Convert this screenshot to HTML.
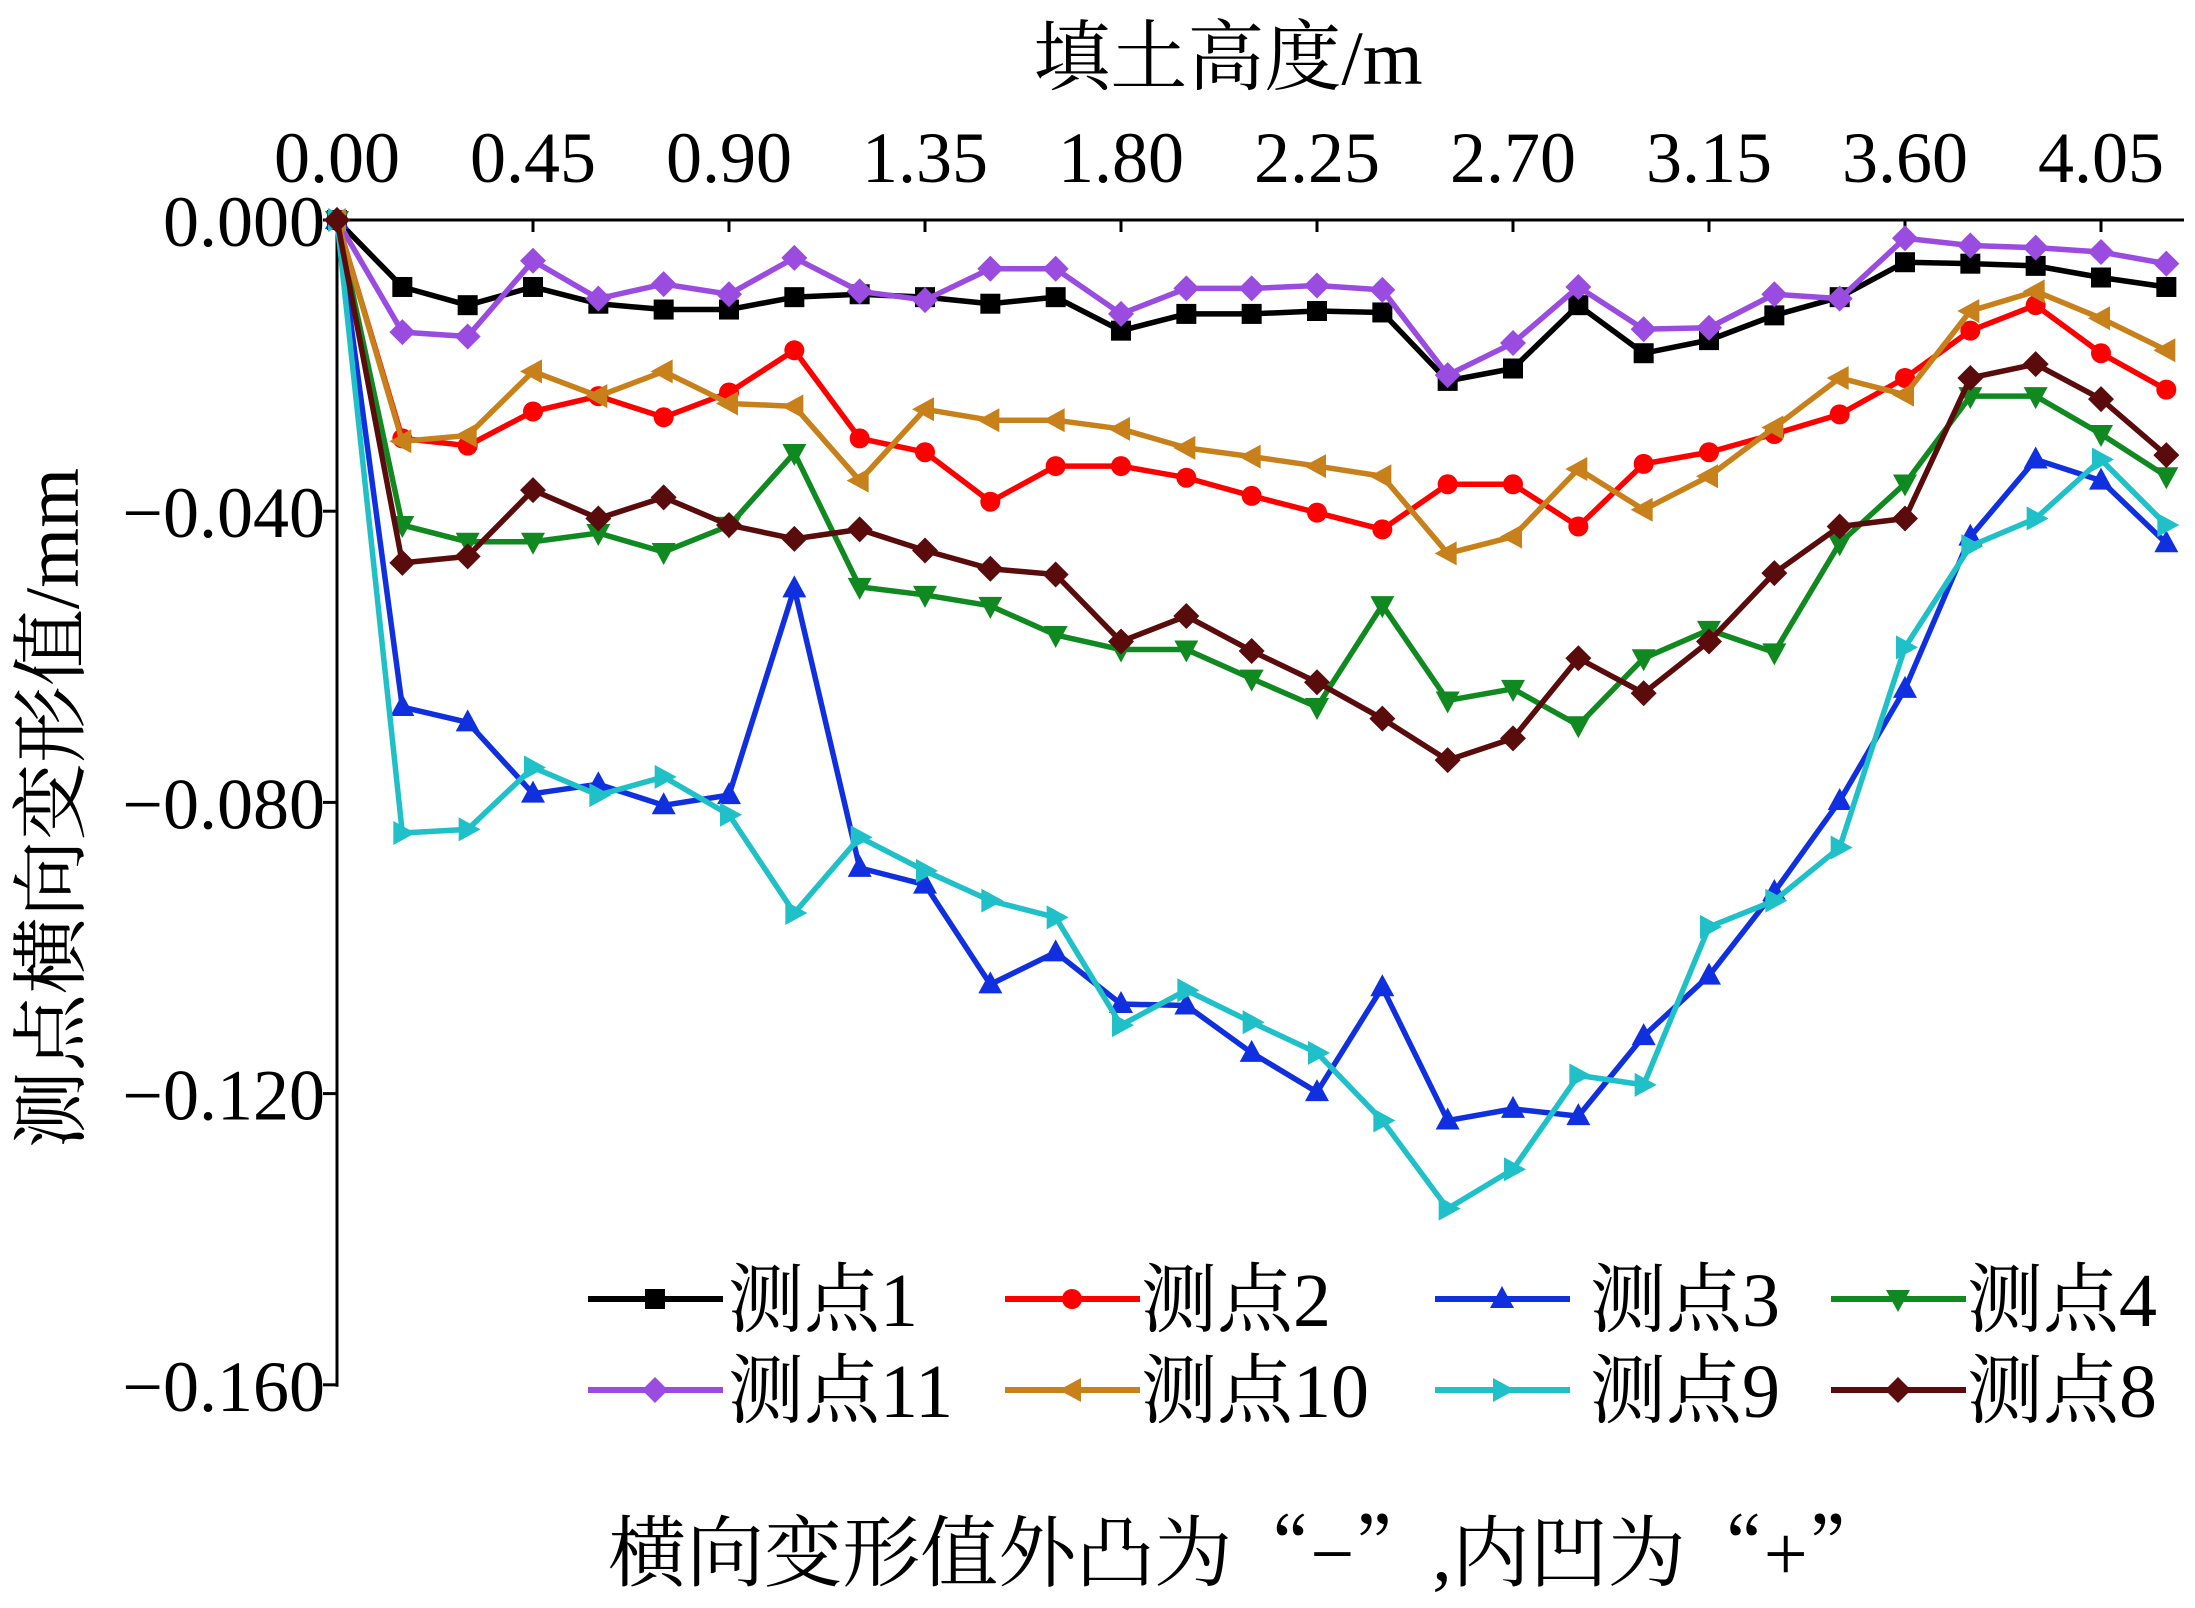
<!DOCTYPE html>
<html><head><meta charset="utf-8"><style>
body{margin:0;background:#fff}
svg{display:block}
text{font-family:"Liberation Serif","Noto Serif CJK SC","Noto Sans CJK SC",serif;fill:#000}
.cj{font-family:"Noto Serif CJK SC","Noto Sans CJK SC",serif}
</style></head><body>
<svg id="chart" width="2195" height="1608" viewBox="0 0 2195 1608" xmlns="http://www.w3.org/2000/svg">
<g id="axes"></g>
<g id="series"></g>
<g id="legend"></g>
<text x="1228" y="84" font-size="77" text-anchor="middle">填土高度/m</text>
<text transform="translate(78,808) rotate(-90)" font-size="77" text-anchor="middle">测点横向变形值/mm</text>
<text x="1247" y="1580" font-size="78" text-anchor="middle">横向变形值外凸为<tspan class="cj">“</tspan>−<tspan class="cj">”</tspan>,内凹为<tspan class="cj">“</tspan>+<tspan class="cj">”</tspan></text>
</svg>
<script>
const xTicks=[0,0.45,0.90,1.35,1.80,2.25,2.70,3.15,3.60,4.05];
const xTickLabels=["0.00","0.45","0.90","1.35","1.80","2.25","2.70","3.15","3.60","4.05"];
const yTicks=[0,-0.04,-0.08,-0.12,-0.16];
const yTickLabels=["0.000","−0.040","−0.080","−0.120","−0.160"];
const heights=[0,0.15,0.30,0.45,0.60,0.75,0.90,1.05,1.20,1.35,1.50,1.65,1.80,1.95,2.10,2.25,2.40,2.55,2.70,2.85,3.00,3.15,3.30,3.45,3.60,3.75,3.90,4.05,4.20];
const s1=[0,-.0092,-.0117,-.0092,-.0115,-.0123,-.0123,-.0106,-.0102,-.0106,-.0115,-.0106,-.0152,-.0129,-.0129,-.0125,-.0127,-.0221,-.0204,-.0117,-.0183,-.0165,-.0131,-.0106,-.0058,-.0060,-.0063,-.0079,-.0092];
const s2=[0,-.030,-.031,-.0263,-.0242,-.0271,-.0237,-.0179,-.030,-.0319,-.0387,-.0338,-.0338,-.0354,-.0379,-.0402,-.0425,-.0363,-.0363,-.0421,-.0335,-.0319,-.0294,-.0267,-.0217,-.0152,-.0117,-.0183,-.0233];
const s3=[0,-.0669,-.0690,-.0788,-.0775,-.0804,-.0790,-.0506,-.0890,-.0913,-.1050,-.1006,-.1077,-.1079,-.1144,-.1198,-.1054,-.1237,-.1221,-.1231,-.1121,-.1038,-.0923,-.0798,-.0644,-.0435,-.0329,-.0358,-.0444];
const s4=[0,-.0419,-.0442,-.0442,-.0430,-.0456,-.0420,-.0320,-.0504,-.0515,-.0530,-.0570,-.0590,-.0590,-.0630,-.0669,-.0529,-.0660,-.0644,-.0694,-.0602,-.0563,-.0594,-.0444,-.0362,-.0242,-.0242,-.0294,-.0352];
const s11=[0,-.0154,-.0160,-.0056,-.0108,-.0088,-.0102,-.0052,-.0098,-.0110,-.0067,-.0067,-.0129,-.0094,-.0094,-.0090,-.0096,-.0213,-.0169,-.0092,-.0150,-.0148,-.0102,-.0108,-.0025,-.0035,-.0038,-.0044,-.0060];
const s10=[0,-.0304,-.0296,-.0208,-.0242,-.0208,-.0252,-.0256,-.0358,-.0260,-.0275,-.0275,-.0287,-.0313,-.0325,-.0338,-.0352,-.0458,-.0435,-.0342,-.0398,-.0352,-.0285,-.0217,-.0240,-.0125,-.0098,-.0135,-.0179];
const s9=[0,-.0842,-.0837,-.0752,-.0790,-.0765,-.0817,-.0952,-.0848,-.0894,-.0935,-.0958,-.1106,-.1058,-.1102,-.1144,-.1237,-.1358,-.1304,-.1175,-.1188,-.0971,-.0935,-.0862,-.0587,-.0448,-.0410,-.0329,-.0419];
const s8=[0,-.0471,-.0462,-.0371,-.0410,-.0381,-.0419,-.0438,-.0425,-.0454,-.0479,-.0487,-.0579,-.0544,-.0592,-.0635,-.0685,-.0742,-.0712,-.0602,-.0650,-.0579,-.0485,-.0421,-.0410,-.0217,-.0198,-.0246,-.0323];
const seriesNames=["测点1","测点2","测点3","测点4","测点11","测点10","测点9","测点8"];
const seriesData=[s1,s2,s3,s4,s11,s10,s9,s8];
const colors=["#000000","#ff0000","#1030e0","#108a20","#9a4be0","#c8801a","#20c0c8","#5a0c0c"];
const markers=["square","circle","tri-up","tri-down","diamond","tri-left","tri-right","diamond"];

const NS="http://www.w3.org/2000/svg";
const X0=337,Y0=220,XR=2184;
const xs=v=>X0+v*(196/0.45);
const ys=v=>Y0-v*(291.2/0.04);
function mk(tag,attrs,parent){const e=document.createElementNS(NS,tag);for(const k in attrs)e.setAttribute(k,attrs[k]);parent.appendChild(e);return e;}
const axes=document.getElementById('axes');
let l=mk('line',{x1:X0,y1:Y0,x2:XR,y2:Y0,stroke:'#000','stroke-width':3},axes);


l=mk('line',{x1:X0,y1:Y0,x2:X0,y2:ys(-0.16)+2,stroke:'#000','stroke-width':3},axes);


xTicks.forEach((v,i)=>{
  const t=mk('line',{x1:xs(v),y1:Y0,x2:xs(v),y2:Y0+12,stroke:'#000','stroke-width':3},axes);
  
  
  const tx=mk('text',{x:xs(v),y:182,'font-size':72,'text-anchor':'middle'},axes);
  tx.textContent=xTickLabels[i];
  
  
});
yTicks.forEach((v,i)=>{
  const t=mk('line',{x1:X0-14,y1:ys(v),x2:X0,y2:ys(v),stroke:'#000','stroke-width':3},axes);
  
  
  const tx=mk('text',{x:X0-12,y:ys(v)+26,'font-size':72,'text-anchor':'end'},axes);
  tx.textContent=yTickLabels[i];
  
  
});
function marker(type,x,y,c,p){
  const s=10;let e;
  if(type==='square')e=mk('rect',{x:x-s,y:y-s,width:2*s,height:2*s,fill:c},p);
  else if(type==='circle')e=mk('circle',{cx:x,cy:y,r:s,fill:c},p);
  else{
    let pts;
    if(type==='tri-up')pts=[[0,-1.3],[1.2,0.9],[-1.2,0.9]];
    else if(type==='tri-down')pts=[[0,1.3],[1.2,-0.9],[-1.2,-0.9]];
    else if(type==='tri-left')pts=[[-1.3,0],[0.9,-1.2],[0.9,1.2]];
    else if(type==='tri-right')pts=[[1.3,0],[-0.9,-1.2],[-0.9,1.2]];
    else pts=[[0,-1.3],[1.3,0],[0,1.3],[-1.3,0]];
    e=mk('polygon',{points:pts.map(q=>(x+q[0]*s)+','+(y+q[1]*s)).join(' '),fill:c},p);
  }
  return e;
}
const sg=document.getElementById('series');
seriesData.forEach((d,k)=>{
  const g=mk('g',{},sg);
  
  
  const pl=mk('polyline',{points:d.map((v,i)=>xs(heights[i])+','+ys(v)).join(' '),fill:'none',stroke:colors[k],'stroke-width':5.5,'stroke-linejoin':'round'},g);
  
  
  d.forEach((v,i)=>{
    const m=marker(markers[k],xs(heights[i]),ys(v),colors[k],g);
    
    
  });
});
const lg=document.getElementById('legend');
const lx=[588,1005,1435,1831],tx=[728,1141,1590,1967],ly=[1299,1390];
seriesNames.forEach((n,k)=>{
  const r=Math.floor(k/4),c=k%4;
  const g=mk('g',{},lg);
  
  
  mk('line',{x1:lx[c],y1:ly[r],x2:lx[c]+135,y2:ly[r],stroke:colors[k],'stroke-width':6},g);
  marker(markers[k],lx[c]+67,ly[r],colors[k],g);
  const t=mk('text',{x:tx[c],y:ly[r]+27,'font-size':76},g);
  t.textContent=n;
});
</script>
</body></html>
